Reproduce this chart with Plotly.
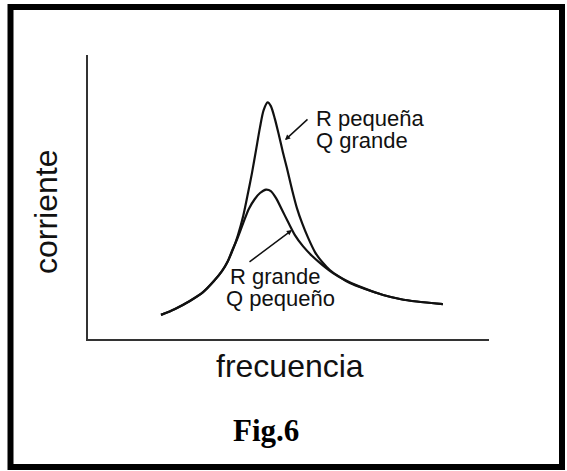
import plotly.graph_objects as go

# Data (arbitrary units, 0-100 on both axes)
freq_high_q = [18.2, 21.7, 25.4, 28.7, 31.4, 33.4, 34.9, 36.2, 37.4, 38.7, 39.9, 40.9, 41.9,
               42.9, 43.8, 44.8, 45.6, 46.6, 47.6, 48.6, 49.6, 50.9, 52.1, 53.4, 54.9,
               56.6, 58.4, 60.3, 62.8, 65.3, 69.1, 73.6, 77.8, 82.0, 88.5]
curr_high_q = [8.5, 10.6, 13.4, 16.5, 20.4, 23.9, 27.5, 31.7, 36.6, 43.3, 51.4, 58.5, 66.5,
               74.6, 80.6, 83.3, 82.0, 77.5, 71.8, 65.8, 60.2, 52.5, 46.1, 40.8, 35.6,
               30.6, 27.1, 24.3, 21.8, 19.7, 17.6, 15.5, 14.1, 13.2, 12.3]

freq_low_q = [18.2, 21.7, 25.4, 28.7, 31.4, 33.4, 34.9, 35.9, 37.2, 38.7, 40.1, 41.6, 42.9,
              44.4, 45.6, 46.9, 48.4, 49.9, 51.6, 53.6, 55.9, 58.4, 61.1, 64.1, 67.3,
              73.6, 77.8, 82.0, 88.5]
curr_low_q = [8.5, 10.6, 13.4, 16.5, 20.4, 23.9, 27.5, 31.0, 35.2, 40.8, 45.8, 49.3, 51.4,
              52.6, 52.1, 49.6, 45.4, 41.2, 36.6, 32.7, 29.2, 26.1, 23.2, 20.8, 18.7,
              15.5, 14.1, 13.2, 12.3]

label_high_q = ["R pequeña", "Q grande"]
label_low_q = ["R grande", "Q pequeño"]
x_title = "frecuencia"
y_title = "corriente"
fig_title = "Fig.6"

W, H = 567, 471
L, R, T, B = 88, 78, 55, 132


def px(x):
    return (x - L) / (W - L - R)


def py(y):
    return (H - B - y) / (H - B - T)


fig = go.Figure()
line_style = dict(color="#111111", width=2.2, shape="spline", smoothing=0.8)
fig.add_trace(go.Scatter(x=freq_high_q, y=curr_high_q, mode="lines", line=line_style,
                         hoverinfo="skip", showlegend=False))
fig.add_trace(go.Scatter(x=freq_low_q, y=curr_low_q, mode="lines", line=line_style,
                         hoverinfo="skip", showlegend=False))

ann = []
lab_font = dict(family="Liberation Sans, Arial, sans-serif", size=22, color="#111111")
for txt, (x0, yc) in zip(label_high_q, [(314, 118), (314, 140)]):
    ann.append(dict(text=txt, xref="paper", yref="paper", x=px(x0), y=py(yc),
                    xanchor="left", yanchor="middle", showarrow=False, font=lab_font))
for txt, (x0, yc) in zip(label_low_q, [(228, 276), (224, 298)]):
    ann.append(dict(text=txt, xref="paper", yref="paper", x=px(x0), y=py(yc),
                    xanchor="left", yanchor="middle", showarrow=False, font=lab_font))

# leader arrows
ann.append(dict(text="", xref="paper", yref="paper", x=px(285), y=py(140),
                ax=24, ay=-22, showarrow=True, arrowhead=2, arrowsize=0.7,
                arrowwidth=1.5, arrowcolor="#111111"))
ann.append(dict(text="", xref="paper", yref="paper", x=px(292), y=py(230),
                ax=-44, ay=33, showarrow=True, arrowhead=2, arrowsize=0.7,
                arrowwidth=1.5, arrowcolor="#111111"))

ann.append(dict(text=x_title, xref="paper", yref="paper", x=px(290), y=py(366),
                xanchor="center", yanchor="middle", showarrow=False,
                font=dict(family="Liberation Sans, Arial, sans-serif", size=32, color="#111111")))
ann.append(dict(text=y_title, xref="paper", yref="paper", x=px(46), y=py(212),
                xanchor="center", yanchor="middle", showarrow=False, textangle=-90,
                font=dict(family="Liberation Sans, Arial, sans-serif", size=32, color="#111111")))
ann.append(dict(text="<b>" + fig_title + "</b>", xref="paper", yref="paper", x=px(266), y=py(430),
                xanchor="center", yanchor="middle", showarrow=False,
                font=dict(family="Liberation Serif, Times New Roman, serif", size=31, color="#000000")))

shapes = [dict(type="rect", xref="paper", yref="paper",
               x0=px(10.5), x1=px(562), y0=py(7), y1=py(467),
               line=dict(color="#000000", width=6), fillcolor="rgba(0,0,0,0)", layer="above")]

fig.update_layout(
    width=W, height=H, autosize=False,
    margin=dict(l=L, r=R, t=T, b=B, pad=0),
    paper_bgcolor="white", plot_bgcolor="white",
    annotations=ann, shapes=shapes,
    xaxis=dict(range=[0, 100], showgrid=False, zeroline=False, showticklabels=False,
               ticks="", showline=True, linecolor="#333333", linewidth=2, fixedrange=True),
    yaxis=dict(range=[0, 100], showgrid=False, zeroline=False, showticklabels=False,
               ticks="", showline=True, linecolor="#333333", linewidth=2, fixedrange=True),
)

fig.write_html("out.html", config={"displayModeBar": False},
               post_script="document.body.style.margin='0';document.body.style.overflow='hidden';")
